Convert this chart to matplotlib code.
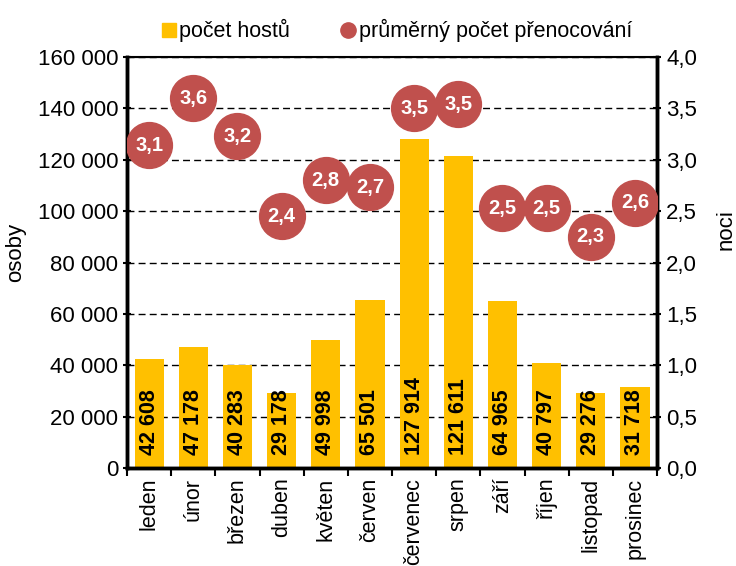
import matplotlib.pyplot as plt
import numpy as np

months = ['leden', 'únor', 'březen', 'duben', 'květen', 'červen',
          'červenec', 'srpen', 'září', 'říjen', 'listopad', 'prosinec']
hoste = [42608, 47178, 40283, 29178, 49998, 65501,
         127914, 121611, 64965, 40797, 29276, 31718]
# positions; labels as printed
prenocovani = [3.14, 3.60, 3.23, 2.45, 2.80, 2.73, 3.50, 3.54, 2.53, 2.53, 2.25, 2.58]
prenoc_labels = ['3,1', '3,6', '3,2', '2,4', '2,8', '2,7', '3,5', '3,5', '2,5', '2,5', '2,3', '2,6']

plt.rcParams['font.family'] = ['Liberation Sans', 'DejaVu Sans']
plt.rcParams['font.size'] = 16

def fmt_thousands(v):
    return f'{v:,.0f}'.replace(',', ' ')

fig = plt.figure(figsize=(7.36, 5.66), dpi=100)
ax = fig.add_axes([0.1726, 0.1731, 0.7201, 0.7262])
x = np.arange(len(months))

ax.bar(x, hoste, width=0.66, color='#FFC000', label='počet hostů', zorder=2)
for xi, v in zip(x, hoste):
    ax.text(xi, 5000, fmt_thousands(v), rotation=90, ha='center', va='bottom',
            fontsize=15.5, fontweight='bold', color='black', zorder=3)

ax.set_ylim(0, 160000)
ax.set_xlim(-0.5, len(months) - 0.5)
yl = np.arange(0, 160001, 20000)
ax.set_yticks(yl)
ax.set_yticklabels([fmt_thousands(v) for v in yl])
ax.yaxis.grid(True, linestyle=(0, (5, 3)), color='black', linewidth=1)
ax.set_axisbelow(True)
ax.set_ylabel('osoby')
ax.yaxis.set_label_coords(-0.19, 0.525)

ax.set_xticks(x)
ax.set_xticklabels(months, rotation=90, fontsize=15.5)
ax.tick_params(axis='x', length=0, pad=7)
ax.set_xticks(np.arange(-0.5, len(months)), minor=True)
ax.tick_params(axis='x', which='minor', length=6, width=1.5, direction='out')
ax.tick_params(axis='y', length=6, width=1.5, direction='inout')

for s in ['left', 'right', 'bottom']:
    ax.spines[s].set_linewidth(2.5)
ax.spines['top'].set_linewidth(1.5)

ax2 = ax.twinx()
ax2.set_ylim(0, 4.0)
yt = np.arange(0, 4.01, 0.5)
ax2.set_yticks(yt)
ax2.set_yticklabels([f'{v:.1f}'.replace('.', ',') for v in yt])
ax2.tick_params(axis='y', length=6, width=1.5, direction='inout')
ax2.set_ylabel('noci', rotation=90)
ax2.yaxis.set_label_coords(1.11, 0.58)
for s in ['left', 'right', 'bottom']:
    ax2.spines[s].set_linewidth(2.5)

ax2.plot(x, prenocovani, linestyle='none', marker='o', markersize=33,
         color='#C0504D', label='průměrný počet přenocování', zorder=4)
for xi, v, lab in zip(x, prenocovani, prenoc_labels):
    ax2.text(xi, v, lab, ha='center', va='center',
             fontsize=14.5, fontweight='bold', color='white', zorder=5)

handles = [plt.Line2D([], [], marker='s', linestyle='none', color='#FFC000', markersize=10),
           plt.Line2D([], [], marker='o', linestyle='none', color='#C0504D', markersize=11)]
fig.legend(handles, ['počet hostů', 'průměrný počet přenocování'],
           loc='upper center', bbox_to_anchor=(0.537, 1.0), ncol=2, frameon=False,
           handletextpad=0.0, columnspacing=2.2, fontsize=15.5, handlelength=1.0)

fig.savefig('out.png', dpi=100)
